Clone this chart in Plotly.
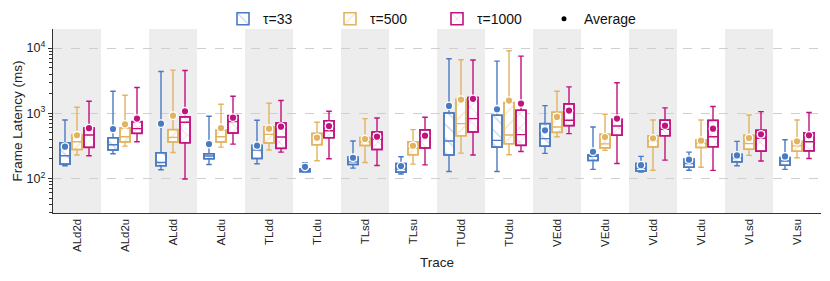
import plotly.graph_objects as go

categories = ["ALd2d", "ALd2u", "ALdd", "ALdu", "TLdd", "TLdu", "TLsd", "TLsu",
              "TUdd", "TUdu", "VEdd", "VEdu", "VLdd", "VLdu", "VLsd", "VLsu"]

series_names = ["τ=33", "τ=500", "τ=1000"]

# tau = 33
t33_lo   = [157, 239, 136, 164, 168, 125, 144, 117, 128, 128, 243, 138, 125, 134, 157, 138]
t33_q1   = [166, 273, 157, 201, 203, 127, 164, 125, 229, 303, 314, 189, 130, 149, 180, 160]
t33_med  = [223, 330, 176, 221, 272, 134, 180, 140, 375, 384, 408, 218, 143, 170, 208, 185]
t33_q3   = [354, 422, 248, 239, 322, 141, 213, 170, 1012, 931, 693, 231, 170, 198, 234, 210]
t33_hi   = [789, 2180, 4375, 899, 780, 174, 375, 215, 6855, 6310, 1312, 616, 218, 254, 371, 393]
t33_mean = [307, 574, 693, 337, 319, 151, 208, 155, 1297, 1152, 547, 257, 160, 194, 226, 218]

# tau = 500
t500_lo   = [229, 314, 251, 303, 273, 187, 176, 166, 245, 231, 437, 270, 134, 149, 226, 208]
t500_q1   = [279, 362, 362, 362, 350, 330, 320, 231, 453, 341, 510, 295, 305, 298, 281, 262]
t500_med  = [366, 437, 427, 437, 475, 398, 366, 290, 693, 464, 616, 340, 380, 345, 343, 316]
t500_q3   = [470, 595, 561, 554, 620, 492, 423, 366, 1642, 1459, 1036, 477, 448, 389, 458, 373]
t500_hi   = [1237, 1892, 4590, 1375, 1425, 727, 828, 561, 6620, 9100, 2180, 966, 789, 789, 943, 789]
t500_mean = [460, 677, 920, 595, 581, 422, 403, 318, 1623, 1567, 878, 432, 413, 380, 418, 371]

# tau = 1000
t1000_lo   = [223, 366, 98, 337, 254, 201, 158, 162, 229, 260, 487, 170, 191, 133, 185, 203]
t1000_q1   = [300, 492, 354, 498, 290, 421, 279, 293, 516, 322, 646, 461, 453, 307, 263, 265]
t1000_med  = [464, 581, 727, 745, 433, 540, 398, 437, 828, 470, 780, 638, 568, 437, 415, 366]
t1000_q3   = [595, 745, 879, 920, 710, 766, 515, 557, 1742, 1112, 1393, 809, 784, 779, 550, 504]
t1000_hi   = [1530, 2483, 4530, 1828, 1567, 1074, 847, 867, 6540, 7530, 2542, 2930, 1208, 1267, 1061, 1025]
t1000_mean = [590, 828, 1074, 857, 624, 638, 437, 453, 1663, 1409, 1099, 828, 646, 581, 475, 459]

y_tickvals = [100, 1000, 10000]
y_ticktext = ["10<sup>2</sup>", "10<sup>3</sup>", "10<sup>4</sup>"]

colors = ["#4A7BC2", "#E2B462", "#C0137F"]
hatch_colors = ["rgba(74,123,194,0.6)", "rgba(226,180,98,0.7)", "rgba(192,19,127,0.5)"]
shapes_pat = ["\\", "/", "x"]
offsets = [-0.25, 0.0, 0.25]
box_w = 0.21

data = [
    (t33_lo, t33_q1, t33_med, t33_q3, t33_hi, t33_mean),
    (t500_lo, t500_q1, t500_med, t500_q3, t500_hi, t500_mean),
    (t1000_lo, t1000_q1, t1000_med, t1000_q3, t1000_hi, t1000_mean),
]

FONT = "Liberation Sans, Arial, Helvetica, sans-serif"
fig = go.Figure()

idx = list(range(len(categories)))

# hatched box bodies (bars)
for s, (lo, q1, med, q3, hi, mean) in enumerate(data):
    xs = [i + offsets[s] for i in idx]
    fig.add_trace(go.Bar(
        x=xs, base=q1, y=[b - a for a, b in zip(q1, q3)], width=box_w,
        name=series_names[s],
        marker=dict(color="white",
                    line=dict(color=colors[s], width=1.6),
                    pattern=dict(shape=shapes_pat[s], fgcolor=hatch_colors[s],
                                 bgcolor="white", size=10, solidity=0.15)),
        hoverinfo="skip",
    ))

# whiskers / medians
for s, (lo, q1, med, q3, hi, mean) in enumerate(data):
    xs = [i + offsets[s] for i in idx]
    fig.add_trace(go.Box(
        x=xs, q1=q1, median=med, q3=q3, lowerfence=lo, upperfence=hi,
        width=box_w, whiskerwidth=0.55,
        fillcolor="rgba(0,0,0,0)",
        line=dict(color=colors[s], width=1.4),
        boxpoints=False, showlegend=False, hoverinfo="skip",
    ))

# means
for s, (lo, q1, med, q3, hi, mean) in enumerate(data):
    xs = [i + offsets[s] for i in idx]
    fig.add_trace(go.Scatter(
        x=xs, y=mean, mode="markers", showlegend=False,
        marker=dict(color=colors[s], size=7.5, line=dict(color="white", width=1.3)),
        hoverinfo="skip",
    ))

fig.add_trace(go.Scatter(x=[None], y=[None], mode="markers", name="Average",
                         marker=dict(color="black", size=5)))

shapes = []
for i in idx:
    if i % 2 == 0:
        shapes.append(dict(type="rect", xref="x", yref="paper", x0=i - 0.5, x1=i + 0.5,
                           y0=0, y1=1, fillcolor="#EDEDED", line=dict(width=0), layer="below"))

minor_vals = [m * 10 ** e for e in range(1, 5) for m in range(2, 10)]

fig.update_layout(
    width=830, height=281,
    margin=dict(l=53, r=9, t=29, b=68, autoexpand=False),
    plot_bgcolor="white", paper_bgcolor="white",
    font=dict(family=FONT, size=12, color="#222"),
    barmode="overlay", boxmode="overlay",
    shapes=shapes,
    showlegend=True,
    legend=dict(orientation="h", x=0.5, xanchor="center",
                yref="container", y=0.932, yanchor="middle",
                font=dict(size=14, color="#111"),
                entrywidth=62, entrywidthmode="pixels",
                bgcolor="rgba(0,0,0,0)", traceorder="normal"),
    xaxis=dict(range=[-0.5, len(categories) - 0.5], tickvals=idx, ticktext=categories,
               tickangle=-90, showgrid=False, zeroline=False, automargin=False,
               showline=True, linecolor="#333", linewidth=1.3, ticks="",
               tickfont=dict(size=11.5, color="#222"),
               title=dict(text="Trace", font=dict(size=13.5), standoff=6)),
    yaxis=dict(type="log", range=[1.471, 4.292], tickvals=y_tickvals, ticktext=y_ticktext,
               automargin=False,
               showgrid=True, gridcolor="#CFCFCF", griddash="dash", gridwidth=0.8,
               showline=True, linecolor="#333", linewidth=1.3, zeroline=False,
               ticks="outside", ticklen=4, tickcolor="#333",
               tickfont=dict(size=12.5, color="#222"),
               minor=dict(tickvals=minor_vals, ticks="outside", ticklen=2.5,
                          tickcolor="#333", showgrid=False),
               title=dict(text="Frame Latency (ms)", font=dict(size=13.5), standoff=0)),
)

fig.write_html("out.html", config={"displayModeBar": False},
               post_script="document.body.style.margin='0px';")
